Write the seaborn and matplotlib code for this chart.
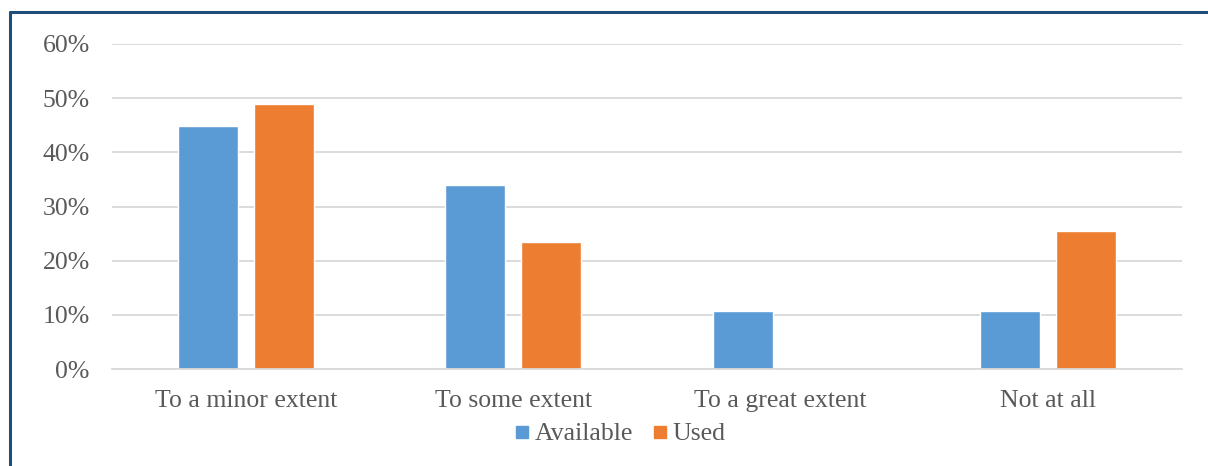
import matplotlib
matplotlib.use("Agg")
import matplotlib.pyplot as plt
import seaborn as sns
import pandas as pd
from matplotlib.lines import Line2D
from matplotlib.ticker import PercentFormatter

categories = ["To a minor extent", "To some extent", "To a great extent", "Not at all"]
series_names = ["Available", "Used"]
available = [44.8, 34.0, 10.7, 10.7]
used = [49.0, 23.4, 0.0, 25.4]
y_ticks = [0, 10, 20, 30, 40, 50, 60]

df = pd.DataFrame({
    "category": categories * 2,
    "series": [series_names[0]] * 4 + [series_names[1]] * 4,
    "value": available + used,
})

sns.set_theme(style="white")
plt.rcParams["font.family"] = ["Liberation Serif", "DejaVu Serif"]

text_color = "#595959"
colors = {"Available": "#5B9BD5", "Used": "#ED7D31"}

fig = plt.figure(figsize=(12.08, 4.66), dpi=100)
ax = fig.add_axes([112 / 1208, 1 - 369 / 466, (1182 - 112) / 1208, (369 - 44) / 466])

sns.barplot(data=df, x="category", y="value", hue="series", order=categories,
            hue_order=series_names, palette=colors, width=0.568, gap=0.21,
            saturation=1, ax=ax, legend=False)

ax.set_ylim(0, 60)
ax.set_xlim(-0.5, 3.5)
ax.set_yticks(y_ticks)
ax.yaxis.set_major_formatter(PercentFormatter(decimals=0))
ax.grid(axis="y", color="#D9D9D9", linewidth=1.3)
ax.set_axisbelow(True)
for s in ["top", "right", "left"]:
    ax.spines[s].set_visible(False)
ax.spines["bottom"].set_color("#D9D9D9")
ax.spines["bottom"].set_linewidth(1.3)
ax.set_xlabel("")
ax.set_ylabel("")
ax.tick_params(axis="both", length=0, labelsize=18.5, colors=text_color)
ax.tick_params(axis="y", pad=16)
ax.tick_params(axis="x", pad=15)

handles = [Line2D([0], [0], marker="s", linestyle="", markersize=9,
                  markerfacecolor=colors[n], markeredgecolor=colors[n]) for n in series_names]
leg = fig.legend(handles, series_names, loc="center", bbox_to_anchor=(618 / 1208, 1 - 434 / 466),
                 ncol=2, frameon=False, fontsize=18.5, handletextpad=0.05, columnspacing=0.6,
                 handlelength=0.9)
for t in leg.get_texts():
    t.set_color(text_color)

# outer chart frame (cropped on right and bottom)
border = "#1F4E79"
fig.add_artist(Line2D([10 / 1208, 10 / 1208], [0, 1 - 12 / 466], transform=fig.transFigure,
                      color=border, linewidth=2.2))
fig.add_artist(Line2D([10 / 1208, 1], [1 - 12 / 466, 1 - 12 / 466], transform=fig.transFigure,
                      color=border, linewidth=2.2))

fig.savefig("out.png", dpi=100)
